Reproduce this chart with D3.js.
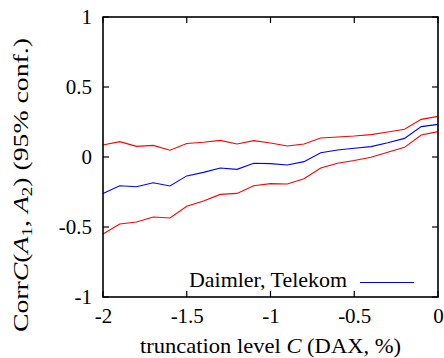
<!DOCTYPE html>
<html>
<head>
<meta charset="utf-8">
<script src="https://cdn.jsdelivr.net/npm/d3@7"></script>
<style>
  html, body { margin: 0; padding: 0; background: #fff; }
  svg { display: block; }
</style>
</head>
<body>
<svg id="chart" width="444" height="358"></svg>
<script>
// Truncation levels C (DAX, %)
const truncation = [-2.0, -1.9, -1.8, -1.7, -1.6, -1.5, -1.4, -1.3, -1.2, -1.1, -1.0,
                    -0.9, -0.8, -0.7, -0.6, -0.5, -0.4, -0.3, -0.2, -0.1, 0.0];
// Conditional correlation estimate, Daimler vs Telekom
const corrEstimate = [-0.26, -0.205, -0.212, -0.184, -0.207, -0.135, -0.11, -0.079, -0.088, -0.045, -0.047,
                      -0.057, -0.033, 0.031, 0.05, 0.062, 0.074, 0.102, 0.133, 0.217, 0.233];
// 95% confidence band
const upperBound = [0.086, 0.11, 0.076, 0.083, 0.048, 0.096, 0.105, 0.119, 0.093, 0.117, 0.1,
                    0.079, 0.093, 0.136, 0.143, 0.15, 0.16, 0.179, 0.198, 0.269, 0.29];
const lowerBound = [-0.55, -0.479, -0.464, -0.429, -0.436, -0.352, -0.314, -0.267, -0.26, -0.205, -0.19,
                    -0.193, -0.155, -0.079, -0.045, -0.025, -0.002, 0.034, 0.069, 0.157, 0.181];
const xTicks = [-2, -1.5, -1, -0.5, 0];
const yTicks = [-1, -0.5, 0, 0.5, 1];
const seriesName = "Daimler, Telekom";

const FONT = "Liberation Serif";
const svg = d3.select("#chart");
const plot = { left: 103, right: 438, top: 17, bottom: 297 };

const x = d3.scaleLinear().domain([-2, 0]).range([plot.left, plot.right]);
const y = d3.scaleLinear().domain([-1, 1]).range([plot.bottom, plot.top]);

const fmt = d => (d === 0 ? "0" : String(d));
const fontSize = 21;

// Curves
const line = d3.line().x((d, i) => x(truncation[i])).y(d => y(d));
const curves = [
  { vals: upperBound, color: "#ff0000" },
  { vals: lowerBound, color: "#ff0000" },
  { vals: corrEstimate, color: "#0000ff" }
];
svg.append("g").selectAll("path").data(curves).join("path")
  .attr("d", d => line(d.vals))
  .attr("fill", "none")
  .attr("stroke", d => d.color)
  .attr("stroke-width", 1.1);

// Tick labels through d3 axes (tick marks drawn separately, pointing inward)
const tickLen = 6;
const axB = d3.axisBottom(x).tickValues(xTicks).tickSize(0).tickFormat(fmt);
const axL = d3.axisLeft(y).tickValues(yTicks).tickSize(0).tickFormat(fmt);

const gx = svg.append("g").attr("transform", `translate(0,${plot.bottom})`).call(axB)
  .attr("font-size", fontSize).attr("font-family", FONT);
gx.select(".domain").remove();
gx.selectAll("text").attr("y", 26).attr("dy", 0).attr("fill", "#000");

const gy = svg.append("g").attr("transform", `translate(${plot.left},0)`).call(axL)
  .attr("font-size", fontSize).attr("font-family", FONT);
gy.select(".domain").remove();
gy.selectAll("text").attr("x", -11).attr("dy", "0.33em").attr("fill", "#000");

const ticks = svg.append("g").attr("stroke", "#000").attr("stroke-width", 1.2);
xTicks.forEach(v => {
  ticks.append("line").attr("x1", x(v)).attr("x2", x(v)).attr("y1", plot.bottom).attr("y2", plot.bottom - tickLen);
  ticks.append("line").attr("x1", x(v)).attr("x2", x(v)).attr("y1", plot.top).attr("y2", plot.top + tickLen);
});
yTicks.forEach(v => {
  ticks.append("line").attr("x1", plot.left).attr("x2", plot.left + tickLen).attr("y1", y(v)).attr("y2", y(v));
  ticks.append("line").attr("x1", plot.right).attr("x2", plot.right - tickLen).attr("y1", y(v)).attr("y2", y(v));
});

// Frame
svg.append("rect")
  .attr("x", plot.left).attr("y", plot.top)
  .attr("width", plot.right - plot.left).attr("height", plot.bottom - plot.top)
  .attr("fill", "none").attr("stroke", "#000").attr("stroke-width", 1.6);

// Legend
svg.append("text")
  .attr("x", 347).attr("y", 287)
  .attr("text-anchor", "end")
  .attr("font-size", fontSize)
  .attr("textLength", 158).attr("lengthAdjust", "spacingAndGlyphs")
  .text(seriesName);
svg.append("line")
  .attr("x1", 360).attr("x2", 414).attr("y1", 282.5).attr("y2", 282.5)
  .attr("stroke", "#0000ff").attr("stroke-width", 1.1);

// X axis title
const xt = svg.append("text")
  .attr("x", 140).attr("y", 353)
  .attr("font-size", fontSize)
  .attr("textLength", 261).attr("lengthAdjust", "spacingAndGlyphs");
xt.append("tspan").text("truncation level ");
xt.append("tspan").attr("font-style", "italic").text("C");
xt.append("tspan").text(" (DAX, %)");

// Y axis title
const yt = svg.append("text")
  .attr("transform", "translate(28,332) rotate(-90)")
  .attr("x", 0).attr("y", 0)
  .attr("font-size", 22)
  .attr("textLength", 294).attr("lengthAdjust", "spacingAndGlyphs");
yt.append("tspan").text("Corr");
yt.append("tspan").attr("font-style", "italic").text("C");
yt.append("tspan").text("(");
yt.append("tspan").attr("font-style", "italic").text("A");
yt.append("tspan").attr("font-size", 15).attr("dy", 4).text("1");
yt.append("tspan").attr("dy", -4).text(", ");
yt.append("tspan").attr("font-style", "italic").text("A");
yt.append("tspan").attr("font-size", 15).attr("dy", 4).text("2");
yt.append("tspan").attr("dy", -4).text(") (95% conf.)");

// Every label uses the serif face
svg.selectAll("text").attr("font-family", FONT).attr("fill", "#000");
</script>
</body>
</html>
